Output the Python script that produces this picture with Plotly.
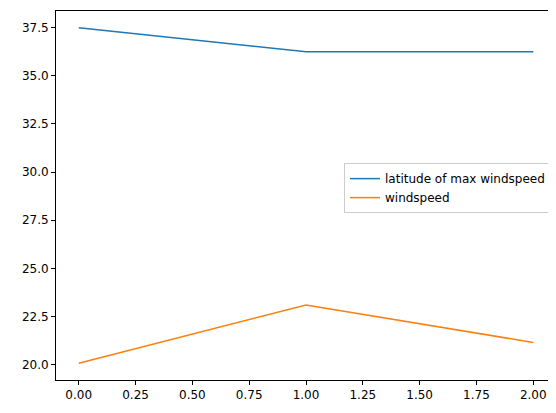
import plotly.graph_objects as go

x = [0, 1, 2]
latitude = [37.5, 36.25, 36.25]
windspeed = [20.07, 23.1, 21.15]

fig = go.Figure()
fig.add_trace(go.Scatter(x=x, y=latitude, mode='lines', name='latitude of max windspeed',
                         line=dict(color='#1f77b4', width=1.5)))
fig.add_trace(go.Scatter(x=x, y=windspeed, mode='lines', name='windspeed',
                         line=dict(color='#ff7f0e', width=1.5)))

axis = dict(showline=True, linecolor='black', linewidth=1, mirror=True, showgrid=False,
            zeroline=False, ticks='outside', ticklen=4, tickcolor='black',
            tickfont=dict(size=12, color='black'))
fig.update_layout(
    width=556, height=413, template='simple_white',
    font=dict(family='DejaVu Sans', size=12, color='black'),
    margin=dict(l=48, r=8, t=3, b=41),
    xaxis=dict(range=[-0.1, 2.1], tickmode='array',
               tickvals=[0, 0.25, 0.5, 0.75, 1, 1.25, 1.5, 1.75, 2],
               ticktext=['0.00', '0.25', '0.50', '0.75', '1.00', '1.25', '1.50', '1.75', '2.00'], **axis),
    yaxis=dict(range=[19.2, 38.37], tickmode='array',
               tickvals=[20, 22.5, 25, 27.5, 30, 32.5, 35, 37.5],
               ticktext=['20.0', '22.5', '25.0', '27.5', '30.0', '32.5', '35.0', '37.5'], **axis),
    legend=dict(x=0.99, y=0.52, xanchor='right', yanchor='middle',
                bordercolor='#cccccc', borderwidth=1, bgcolor='white',
                font=dict(size=12)),
)
fig.write_html("out.html")
